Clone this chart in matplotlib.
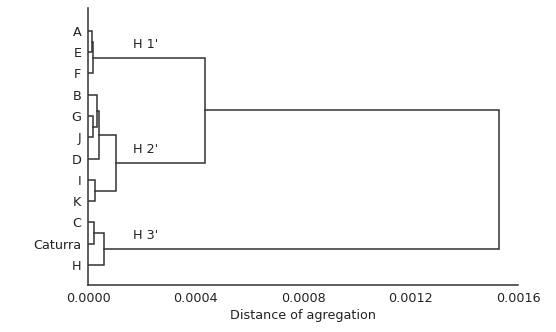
import matplotlib.pyplot as plt

# Leaves, top to bottom
leaves = ["A", "E", "F", "B", "G", "J", "D", "I", "K", "C", "Caturra", "H"]

# Agglomeration steps: (left, right, distance)
merges = [
    ("A", "E", 0.000014),
    ("G", "J", 0.0000156),
    ("AE", "F", 0.0000186),
    ("C", "Caturra", 0.0000205),
    ("I", "K", 0.000024),
    ("B", "GJ", 0.0000335),
    ("BGJ", "D", 0.000039),
    ("CCaturra", "H", 0.0000577),
    ("BGJD", "IK", 0.000102),
    ("AEF", "BGJDIK", 0.000433),
    ("AEFBGJDIK", "CCaturraH", 0.001527),
]

# Cluster names and label positions
group_labels = ["H 1'", "H 2'", "H 3'"]
group_nodes = ["AEF", "BGJDIK", "CCaturraH"]

xticks = [0.0, 0.0004, 0.0008, 0.0012, 0.0016]
xtick_labels = ["0.0000", "0.0004", "0.0008", "0.0012", "0.0016"]

line_color = "#333333"
text_color = "#222222"
fs = 9.2

fig = plt.figure(figsize=(5.56, 3.32), dpi=100)
ax = fig.add_axes([0.159, 0.1416, 0.773, 0.8344])

pos = {name: (0.0, i) for i, name in enumerate(leaves)}
for left, right, d in merges:
    x1, y1 = pos[left]
    x2, y2 = pos[right]
    ax.plot([x1, d, d, x2], [y1, y1, y2, y2], color=line_color, lw=1.1,
            solid_joinstyle="miter")
    pos[left + right] = (d, (y1 + y2) / 2)

for label, node in zip(group_labels, group_nodes):
    x, y = pos[node]
    ax.text(0.000165, y - 0.33, label, fontsize=fs, color=text_color,
            ha="left", va="bottom")

ax.set_xlim(0, 0.0016)
ax.set_ylim(11.94, -1.08)
ax.set_yticks(range(len(leaves)))
ax.set_yticklabels(leaves)
ax.set_xticks(xticks)
ax.set_xticklabels(xtick_labels)
ax.tick_params(length=0, pad=5, labelsize=fs, colors=text_color)
ax.set_xlabel("Distance of agregation", fontsize=fs, color=text_color,
              labelpad=3)

for side in ["top", "right"]:
    ax.spines[side].set_visible(False)
for side in ["left", "bottom"]:
    ax.spines[side].set_color(line_color)
    ax.spines[side].set_linewidth(1.1)

fig.savefig("out.png", dpi=100)
